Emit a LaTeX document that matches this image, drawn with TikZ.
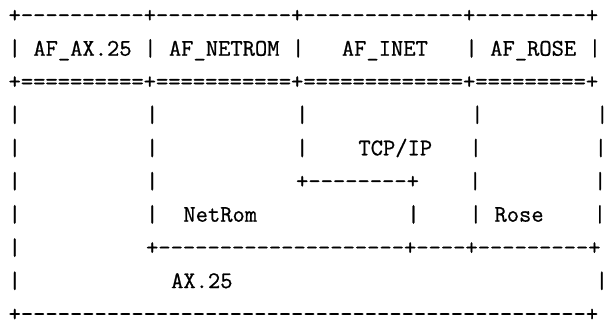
\documentclass[tikz,border=0pt]{standalone}
\usepackage{fontspec}
\newfontfamily\asciifont{Latin Modern Mono}[FakeBold=0.8]
\newcommand\gp[1]{\hspace*{\dimexpr0.525em*#1\relax}}
\tikzset{
  asciirow/.style={anchor=base west, inner sep=0pt, outer sep=0pt,
    font=\asciifont\fontsize{23.85}{28}\selectfont}
}
\begin{document}
\begin{tikzpicture}[x=1pt,y=1pt]
\useasboundingbox (0,0) rectangle (607,320);
\def\xz{8.6}
\node[asciirow] (r1) at (\xz,297.5) {+----------+-----------+-------------+---------+};
\node[asciirow] (r2) at (\xz,264.3) {|\gp{1}AF\_AX.25\gp{1}|\gp{1}AF\_NETROM\gp{1}|\gp{3}AF\_INET\gp{3}|\gp{1}AF\_ROSE\gp{1}|};
\node[asciirow] (r3) at (\xz,231.1) {+==========+===========+=============+=========+};
\node[asciirow] (r4) at (\xz,197.9) {|\gp{10}|\gp{11}|\gp{13}|\gp{9}|};
\node[asciirow] (r5) at (\xz,164.7) {|\gp{10}|\gp{11}|\gp{4}TCP/IP\gp{3}|\gp{9}|};
\node[asciirow] (r6) at (\xz,131.5) {|\gp{10}|\gp{11}+--------+\gp{4}|\gp{9}|};
\node[asciirow] (r7) at (\xz,98.3) {|\gp{10}|\gp{2}NetRom\gp{12}|\gp{4}|\gp{1}Rose\gp{4}|};
\node[asciirow] (r8) at (\xz,65.1) {|\gp{10}+--------------------+----+---------+};
\node[asciirow] (r9) at (\xz,31.9) {|\gp{12}AX.25\gp{29}|};
\node[asciirow] (r10) at (\xz,-1.3) {+----------------------------------------------+};
\end{tikzpicture}
\end{document}
